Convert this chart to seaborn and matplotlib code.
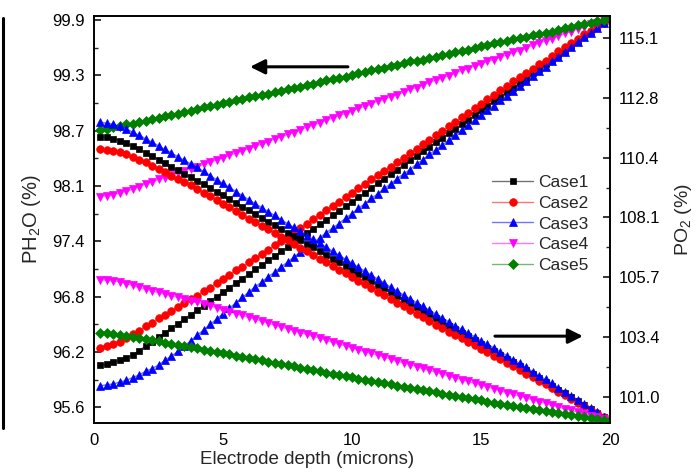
import numpy as np
import matplotlib
matplotlib.use("Agg")
import matplotlib.pyplot as plt
import seaborn as sns
from matplotlib.lines import Line2D
from matplotlib.colors import to_rgba
from matplotlib.ticker import FixedLocator, AutoMinorLocator, FixedFormatter

sns.set_style("white")
plt.rcParams['font.family'] = ['Liberation Sans', 'DejaVu Sans']
plt.rcParams['mathtext.fontset'] = 'custom'
plt.rcParams['mathtext.rm'] = 'Liberation Sans'
plt.rcParams['mathtext.it'] = 'Liberation Sans:italic'
plt.rcParams['mathtext.default'] = 'regular'

# ---------------- data ----------------
depth = [0.25, 0.5, 0.75, 1.0, 1.25, 1.5, 1.75, 2.0, 2.25, 2.5, 2.75, 3.0, 3.25, 3.5, 3.75, 4.0,
         4.25, 4.5, 4.75, 5.0, 5.25, 5.5, 5.75, 6.0, 6.25, 6.5, 6.75, 7.0, 7.25, 7.5, 7.75, 8.0,
         8.25, 8.5, 8.75, 9.0, 9.25, 9.5, 9.75, 10.0, 10.25, 10.5, 10.75, 11.0, 11.25, 11.5, 11.75, 12.0,
         12.25, 12.5, 12.75, 13.0, 13.25, 13.5, 13.75, 14.0, 14.25, 14.5, 14.75, 15.0, 15.25, 15.5, 15.75, 16.0,
         16.25, 16.5, 16.75, 17.0, 17.25, 17.5, 17.75, 18.0, 18.25, 18.5, 18.75, 19.0, 19.25, 19.5, 19.75, 20.0]

cases = ["Case1", "Case2", "Case3", "Case4", "Case5"]

# PH2O (%) - left axis (increasing with depth)
ph2o_case1 = [96.07, 96.08, 96.10, 96.12, 96.15, 96.18, 96.23, 96.28,
              96.33, 96.38, 96.43, 96.48, 96.53, 96.58, 96.63, 96.68,
              96.73, 96.78, 96.83, 96.88, 96.93, 96.98, 97.03, 97.08,
              97.13, 97.18, 97.23, 97.28, 97.33, 97.38, 97.43, 97.48,
              97.53, 97.58, 97.63, 97.68, 97.73, 97.78, 97.83, 97.88,
              97.93, 97.98, 98.03, 98.09, 98.14, 98.19, 98.24, 98.29,
              98.34, 98.39, 98.44, 98.49, 98.54, 98.59, 98.64, 98.69,
              98.74, 98.79, 98.84, 98.90, 98.95, 99.00, 99.05, 99.10,
              99.15, 99.20, 99.25, 99.31, 99.36, 99.41, 99.46, 99.51,
              99.56, 99.61, 99.66, 99.72, 99.77, 99.82, 99.87, 99.92]
ph2o_case2 = [96.26, 96.28, 96.30, 96.33, 96.37, 96.41, 96.45, 96.50,
              96.54, 96.59, 96.63, 96.67, 96.71, 96.76, 96.80, 96.84,
              96.89, 96.93, 96.98, 97.03, 97.07, 97.12, 97.16, 97.21,
              97.26, 97.30, 97.35, 97.40, 97.45, 97.49, 97.54, 97.59,
              97.64, 97.69, 97.74, 97.79, 97.83, 97.88, 97.93, 97.98,
              98.03, 98.08, 98.13, 98.18, 98.22, 98.27, 98.32, 98.37,
              98.42, 98.47, 98.52, 98.57, 98.62, 98.67, 98.72, 98.77,
              98.82, 98.87, 98.92, 98.97, 99.02, 99.07, 99.12, 99.17,
              99.22, 99.27, 99.31, 99.36, 99.41, 99.45, 99.50, 99.55,
              99.60, 99.64, 99.69, 99.74, 99.78, 99.83, 99.87, 99.92]
ph2o_case3 = [95.84, 95.85, 95.86, 95.88, 95.90, 95.93, 95.96, 96.00,
              96.03, 96.07, 96.12, 96.17, 96.22, 96.28, 96.34, 96.40,
              96.46, 96.52, 96.58, 96.64, 96.70, 96.76, 96.82, 96.88,
              96.94, 96.99, 97.05, 97.10, 97.16, 97.21, 97.27, 97.32,
              97.37, 97.43, 97.48, 97.54, 97.59, 97.64, 97.70, 97.75,
              97.81, 97.86, 97.92, 97.97, 98.03, 98.08, 98.14, 98.19,
              98.24, 98.30, 98.35, 98.41, 98.46, 98.51, 98.57, 98.62,
              98.68, 98.73, 98.79, 98.84, 98.90, 98.95, 99.01, 99.06,
              99.11, 99.17, 99.22, 99.28, 99.33, 99.38, 99.44, 99.49,
              99.54, 99.60, 99.65, 99.71, 99.76, 99.81, 99.87, 99.92]
ph2o_case4 = [97.94, 97.95, 97.96, 97.98, 98.00, 98.02, 98.05, 98.08,
              98.10, 98.13, 98.15, 98.18, 98.20, 98.22, 98.25, 98.27,
              98.30, 98.32, 98.35, 98.37, 98.40, 98.42, 98.45, 98.47,
              98.50, 98.52, 98.55, 98.58, 98.60, 98.63, 98.65, 98.68,
              98.71, 98.73, 98.76, 98.79, 98.81, 98.84, 98.86, 98.89,
              98.92, 98.94, 98.97, 99.00, 99.02, 99.05, 99.07, 99.10,
              99.13, 99.15, 99.18, 99.21, 99.23, 99.26, 99.28, 99.31,
              99.34, 99.36, 99.39, 99.41, 99.44, 99.46, 99.49, 99.51,
              99.54, 99.56, 99.59, 99.62, 99.64, 99.67, 99.69, 99.72,
              99.75, 99.77, 99.80, 99.82, 99.85, 99.87, 99.90, 99.92]
ph2o_case5 = [98.68, 98.69, 98.71, 98.72, 98.74, 98.75, 98.77, 98.78,
              98.80, 98.81, 98.83, 98.85, 98.86, 98.88, 98.89, 98.91,
              98.93, 98.94, 98.96, 98.98, 98.99, 99.01, 99.02, 99.04,
              99.06, 99.07, 99.08, 99.10, 99.11, 99.13, 99.14, 99.16,
              99.18, 99.19, 99.21, 99.23, 99.24, 99.26, 99.27, 99.29,
              99.31, 99.32, 99.34, 99.36, 99.37, 99.39, 99.40, 99.42,
              99.44, 99.45, 99.46, 99.48, 99.49, 99.51, 99.52, 99.54,
              99.56, 99.57, 99.59, 99.61, 99.62, 99.64, 99.65, 99.67,
              99.69, 99.70, 99.71, 99.73, 99.74, 99.76, 99.77, 99.79,
              99.81, 99.82, 99.84, 99.86, 99.87, 99.89, 99.90, 99.92]

# PO2 (%) - right axis (decreasing with depth)
po2_case1 = [111.23, 111.20, 111.15, 111.07, 110.97, 110.86, 110.73, 110.60,
             110.46, 110.33, 110.19, 110.05, 109.91, 109.78, 109.64, 109.50,
             109.35, 109.21, 109.06, 108.92, 108.77, 108.62, 108.48, 108.33,
             108.18, 108.04, 107.89, 107.75, 107.60, 107.45, 107.31, 107.16,
             107.01, 106.87, 106.72, 106.58, 106.43, 106.28, 106.14, 105.99,
             105.84, 105.70, 105.55, 105.41, 105.26, 105.11, 104.97, 104.82,
             104.67, 104.53, 104.38, 104.24, 104.09, 103.95, 103.80, 103.66,
             103.51, 103.37, 103.22, 103.08, 102.93, 102.79, 102.64, 102.50,
             102.35, 102.19, 102.04, 101.89, 101.74, 101.59, 101.43, 101.28,
             101.13, 100.97, 100.82, 100.67, 100.51, 100.36, 100.20, 100.05]
po2_case2 = [110.74, 110.72, 110.68, 110.62, 110.54, 110.44, 110.33, 110.22,
             110.09, 109.96, 109.83, 109.70, 109.57, 109.44, 109.31, 109.18,
             109.03, 108.89, 108.74, 108.60, 108.45, 108.30, 108.16, 108.01,
             107.87, 107.72, 107.58, 107.44, 107.29, 107.15, 107.00, 106.86,
             106.72, 106.57, 106.43, 106.29, 106.14, 106.00, 105.85, 105.71,
             105.57, 105.42, 105.28, 105.13, 104.99, 104.84, 104.70, 104.55,
             104.41, 104.27, 104.13, 103.99, 103.84, 103.70, 103.56, 103.42,
             103.29, 103.15, 103.02, 102.88, 102.75, 102.61, 102.48, 102.34,
             102.20, 102.06, 101.91, 101.77, 101.63, 101.49, 101.34, 101.20,
             101.06, 100.91, 100.77, 100.63, 100.48, 100.34, 100.19, 100.05]
po2_case3 = [111.79, 111.76, 111.71, 111.63, 111.53, 111.41, 111.28, 111.15,
             111.01, 110.87, 110.73, 110.59, 110.44, 110.30, 110.16, 110.02,
             109.86, 109.70, 109.54, 109.39, 109.23, 109.07, 108.91, 108.75,
             108.59, 108.44, 108.28, 108.13, 107.97, 107.81, 107.66, 107.50,
             107.34, 107.19, 107.03, 106.88, 106.72, 106.56, 106.41, 106.25,
             106.09, 105.94, 105.78, 105.63, 105.47, 105.31, 105.16, 105.00,
             104.85, 104.70, 104.55, 104.40, 104.25, 104.10, 103.95, 103.80,
             103.65, 103.51, 103.36, 103.21, 103.06, 102.92, 102.77, 102.62,
             102.46, 102.31, 102.15, 101.99, 101.83, 101.68, 101.52, 101.36,
             101.20, 101.03, 100.87, 100.71, 100.54, 100.38, 100.21, 100.05]
po2_case4 = [105.61, 105.59, 105.56, 105.51, 105.45, 105.38, 105.30, 105.22,
             105.16, 105.10, 105.03, 104.97, 104.91, 104.85, 104.78, 104.72,
             104.65, 104.57, 104.50, 104.42, 104.35, 104.27, 104.20, 104.12,
             104.05, 103.97, 103.90, 103.82, 103.75, 103.67, 103.60, 103.52,
             103.45, 103.37, 103.30, 103.22, 103.15, 103.07, 103.00, 102.92,
             102.85, 102.77, 102.70, 102.63, 102.55, 102.48, 102.40, 102.33,
             102.26, 102.18, 102.11, 102.04, 101.96, 101.89, 101.81, 101.74,
             101.67, 101.60, 101.52, 101.45, 101.38, 101.31, 101.23, 101.16,
             101.09, 101.02, 100.95, 100.88, 100.81, 100.74, 100.67, 100.60,
             100.53, 100.46, 100.39, 100.33, 100.26, 100.19, 100.12, 100.05]
po2_case5 = [103.51, 103.49, 103.46, 103.43, 103.39, 103.35, 103.31, 103.27,
             103.22, 103.18, 103.13, 103.09, 103.04, 102.99, 102.95, 102.90,
             102.85, 102.81, 102.76, 102.71, 102.66, 102.62, 102.57, 102.52,
             102.47, 102.43, 102.38, 102.33, 102.28, 102.24, 102.19, 102.14,
             102.09, 102.05, 102.00, 101.95, 101.90, 101.86, 101.81, 101.76,
             101.71, 101.67, 101.62, 101.58, 101.53, 101.48, 101.44, 101.39,
             101.35, 101.30, 101.26, 101.21, 101.17, 101.12, 101.08, 101.03,
             100.99, 100.94, 100.90, 100.86, 100.81, 100.77, 100.72, 100.68,
             100.64, 100.60, 100.56, 100.52, 100.48, 100.44, 100.40, 100.36,
             100.32, 100.28, 100.24, 100.21, 100.17, 100.13, 100.09, 100.05]

left_tick_labels = ["95.6", "96.2", "96.8", "97.4", "98.1", "98.7", "99.3", "99.9"]
right_tick_labels = ["101.0", "103.4", "105.7", "108.1", "110.4", "112.8", "115.1"]
x_ticks = [0, 5, 10, 15, 20]

# ---------------- styling ----------------
colors = ["#000000", "#FF0000", "#0000FF", "#FF00FF", "#008000"]
markers = ["s", "o", "^", "v", "D"]
msizes = [4.9, 5.5, 5.9, 5.9, 4.7]

ph2o_all = [ph2o_case1, ph2o_case2, ph2o_case3, ph2o_case4, ph2o_case5]
po2_all = [po2_case1, po2_case2, po2_case3, po2_case4, po2_case5]

W, H = 699, 472
fig = plt.figure(figsize=(W / 100, H / 100), dpi=100)
ax = fig.add_axes([94 / W, 1 - 423 / H, 516 / W, 407 / H])
ax2 = ax.twinx()


def style_line(line, c):
    line.set_color(to_rgba(c, 0.55))
    line.set_markerfacecolor(c)
    line.set_markeredgecolor(c)


handles = []
for i in range(5):
    sns.lineplot(x=depth, y=ph2o_all[i], ax=ax, color=colors[i], marker=markers[i],
                 markersize=msizes[i], linewidth=1.0, mec=colors[i], mew=0.5,
                 legend=False, errorbar=None)
    ln = ax.lines[-1]
    style_line(ln, colors[i])
    ln.set_label(cases[i])
    handles.append(ln)

for i in range(5):
    sns.lineplot(x=depth, y=po2_all[i], ax=ax2, color=colors[i], marker=markers[i],
                 markersize=msizes[i], linewidth=1.0, mec=colors[i], mew=0.5,
                 legend=False, errorbar=None)
    style_line(ax2.lines[-1], colors[i])

# axes limits & ticks
ax.set_xlim(0, 20)
ax.set_ylim(95.426, 99.944)
ax2.set_ylim(99.965, 115.977)

ax.xaxis.set_major_locator(FixedLocator(x_ticks))
ax.xaxis.set_minor_locator(AutoMinorLocator(2))
ax.yaxis.set_major_locator(FixedLocator(np.linspace(95.6, 99.9, len(left_tick_labels))))
ax.yaxis.set_major_formatter(FixedFormatter(left_tick_labels))
ax.yaxis.set_minor_locator(AutoMinorLocator(2))
ax2.yaxis.set_major_locator(FixedLocator(np.linspace(101.0, 115.1, len(right_tick_labels))))
ax2.yaxis.set_major_formatter(FixedFormatter(right_tick_labels))
ax2.yaxis.set_minor_locator(AutoMinorLocator(2))

for a in (ax, ax2):
    for s in a.spines.values():
        s.set_linewidth(1.2)
        s.set_color("black")

ax.tick_params(axis="both", which="major", direction="in", length=5, width=1.1,
               labelsize=12, colors="black", top=False, right=False)
ax.tick_params(axis="both", which="minor", direction="in", length=3, width=1.0,
               top=False, right=False)
ax.tick_params(axis="y", which="major", pad=6.5)
ax.tick_params(axis="x", which="major", pad=7)
ax2.tick_params(axis="y", which="major", direction="in", length=5, width=1.1,
                labelsize=12, pad=6.5, colors="black")
ax2.tick_params(axis="y", which="minor", direction="in", length=3, width=1.0)

ax.set_xlabel("Electrode depth (microns)", fontsize=13.5)
ax.xaxis.set_label_coords(0.413, -0.068)
ax.set_ylabel("PH$_2$O (%)", fontsize=14.5, labelpad=7)
ax2.set_ylabel("PO$_2$ (%)", fontsize=14, labelpad=9)

# legend
ax2.legend(handles=handles, labels=cases, loc="center left",
           bbox_to_anchor=(0.755, 0.489), frameon=False, borderpad=0,
           handlelength=2.35, handletextpad=0.3, labelspacing=0.32,
           fontsize=12.5, numpoints=1)

# direction arrows
ax.annotate("", xy=(6.05, 99.38), xytext=(9.84, 99.38),
            arrowprops=dict(arrowstyle="-|>", color="black", lw=2.2,
                            mutation_scale=22, shrinkA=0, shrinkB=0))
ax.annotate("", xy=(18.95, 96.39), xytext=(15.54, 96.39),
            arrowprops=dict(arrowstyle="-|>", color="black", lw=2.2,
                            mutation_scale=22, shrinkA=0, shrinkB=0))

# cropping remnant at the left edge of the original figure
fig.add_artist(Line2D([2.5 / W, 2.5 / W], [1 - 18 / H, 1 - 428 / H],
                      color="black", lw=2.2, transform=fig.transFigure))

fig.savefig("out.png", dpi=100)
